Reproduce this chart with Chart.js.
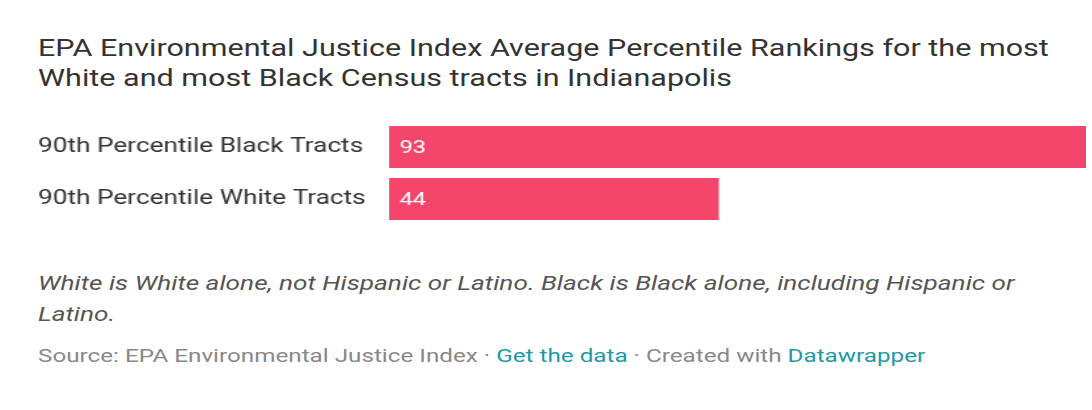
<!DOCTYPE html>
<html>
<head>
<meta charset="utf-8">
<script src="https://cdn.jsdelivr.net/npm/chart.js@4/dist/chart.umd.min.js"></script>
<style>
  html, body { margin: 0; padding: 0; background: #fff; }
  body { width: 1092px; height: 410px; position: relative; overflow: hidden; font-family: Roboto, "Noto Sans", sans-serif; }
  /* the whole graphic is set in a horizontally widened face */
  .wide { position: absolute; left: 38px; transform: scaleX(1.31); transform-origin: 0 0; }
  #title { top: 33px; width: 790px; font-size: 23.3px; line-height: 30px; color: #333; }
  #wrap { top: 121px; width: 800px; height: 104px; }
  #notes { top: 268px; width: 770px; font-size: 20px; line-height: 31px; font-style: italic; color: #555; }
  #source { top: 345px; white-space: nowrap; font-size: 18.5px; color: #888; }
  #source a { color: #1d9aa5; text-decoration: none; }
</style>
</head>
<body>
<div id="title" class="wide">EPA Environmental Justice Index Average Percentile Rankings for the most White and most Black Census tracts in Indianapolis</div>
<div id="wrap" class="wide"><canvas id="chart" width="800" height="104"></canvas></div>
<div id="notes" class="wide">White is White alone, not Hispanic or Latino. Black is Black alone, including Hispanic or Latino.</div>
<div id="source" class="wide">Source: EPA Environmental Justice Index · <a>Get the data</a> · Created with <a>Datawrapper</a></div>
<script>
const categories = ["90th Percentile Black Tracts", "90th Percentile White Tracts"];
const rankings = [93, 44];
const barColor = "#f4466b";

// writes each value in white near the start of its bar
const valueLabels = {
  id: "valueLabels",
  afterDatasetsDraw(chart) {
    const ctx = chart.ctx;
    const meta = chart.getDatasetMeta(0);
    ctx.save();
    ctx.fillStyle = "#fff";
    ctx.font = "18px Roboto, sans-serif";
    ctx.textBaseline = "middle";
    ctx.textAlign = "left";
    meta.data.forEach((bar, i) => {
      ctx.fillText(String(rankings[i]), bar.base + 8, bar.y + 1);
    });
    ctx.restore();
  },
};

// fixed size canvas: the wrapper is transformed, so responsive sizing would misread it
new Chart(document.getElementById("chart"), {
  type: "bar",
  data: {
    labels: categories,
    datasets: [{
      data: rankings,
      backgroundColor: barColor,
      borderWidth: 0,
      barPercentage: 0.81,
      categoryPercentage: 1,
    }],
  },
  options: {
    indexAxis: "y",
    responsive: false,
    devicePixelRatio: 1,
    animation: false,
    layout: { padding: 0 },
    plugins: { legend: { display: false }, tooltip: { enabled: false } },
    scales: {
      x: { display: false, min: 0, max: Math.max(...rankings) },
      y: {
        grid: { display: false },
        border: { display: false },
        ticks: {
          crossAlign: "far",
          color: "#333",
          padding: 0,
          font: { family: "Roboto, sans-serif", size: 20 },
        },
        afterFit(scale) {
          scale.width = 268;
          // bars fill the full height, no room kept for half-labels
          scale.paddingTop = 0;
          scale.paddingBottom = 0;
        },
      },
    },
  },
  plugins: [valueLabels],
});
</script>
</body>
</html>
